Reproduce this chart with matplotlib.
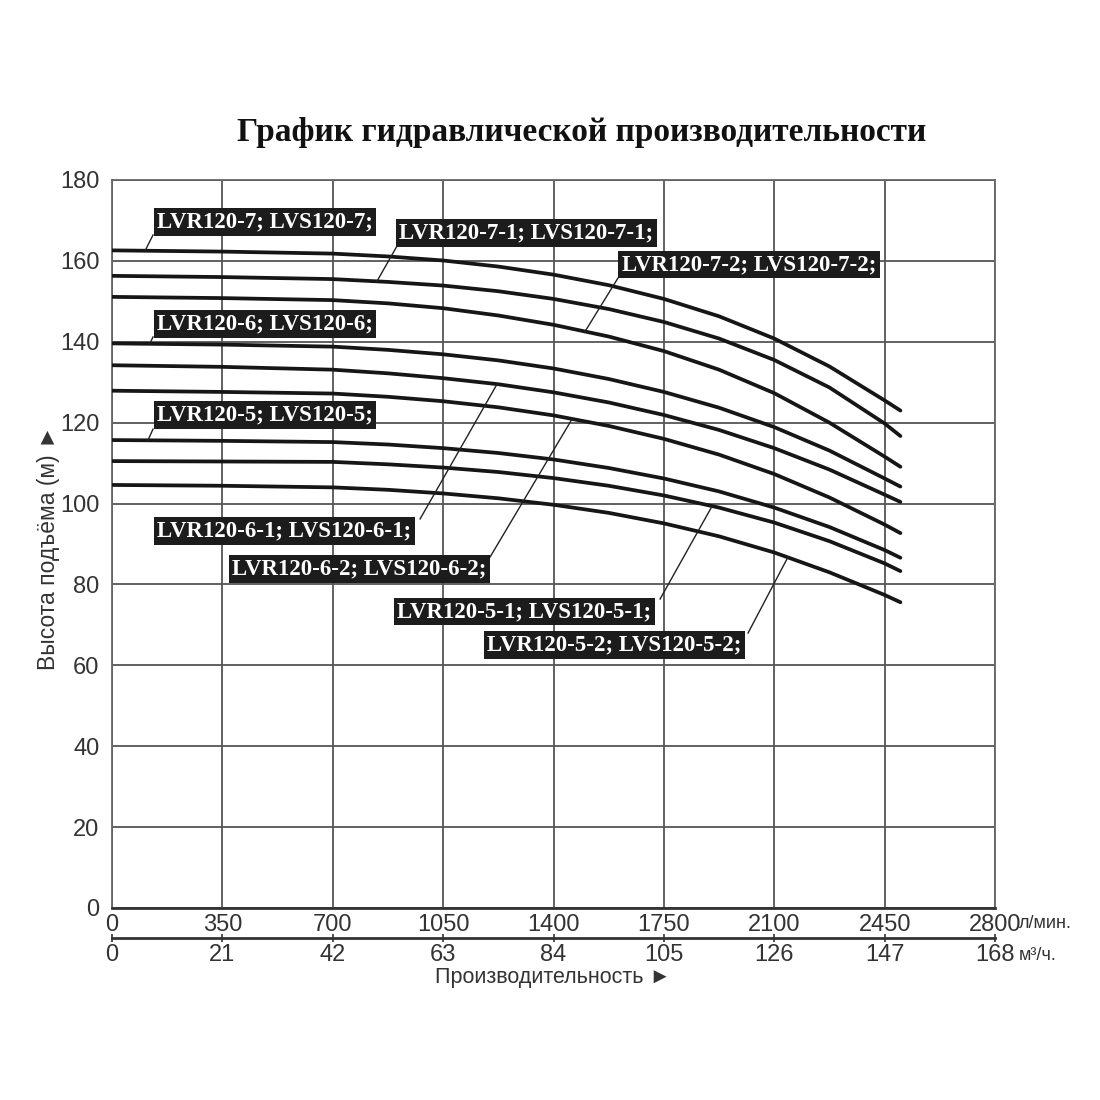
import matplotlib
matplotlib.use('Agg')
import matplotlib.pyplot as plt
import numpy as np

# ---------------- data ----------------
flow_lpm = [0, 350, 700, 875, 1050, 1225, 1400, 1575, 1750, 1925, 2100, 2275, 2450, 2500]

model_names = [
    'LVR120-7; LVS120-7;',
    'LVR120-7-1; LVS120-7-1;',
    'LVR120-7-2; LVS120-7-2;',
    'LVR120-6; LVS120-6;',
    'LVR120-6-1; LVS120-6-1;',
    'LVR120-6-2; LVS120-6-2;',
    'LVR120-5; LVS120-5;',
    'LVR120-5-1; LVS120-5-1;',
    'LVR120-5-2; LVS120-5-2;',
]

head_7   = [162.6, 162.3, 161.8, 161.1, 160.1, 158.6, 156.6, 154.0, 150.6, 146.3, 140.8, 133.9, 125.5, 123.0]
head_7_1 = [156.3, 156.0, 155.5, 154.8, 153.9, 152.5, 150.6, 148.1, 144.9, 140.8, 135.5, 128.7, 119.8, 116.7]
head_7_2 = [151.1, 150.8, 150.3, 149.5, 148.3, 146.5, 144.2, 141.3, 137.7, 133.1, 127.3, 120.0, 111.6, 109.1]
head_6   = [139.6, 139.3, 138.8, 138.0, 136.9, 135.4, 133.4, 130.8, 127.6, 123.7, 118.9, 113.1, 106.2, 104.2]
head_6_1 = [134.2, 133.8, 133.1, 132.2, 131.0, 129.5, 127.5, 125.0, 121.9, 118.2, 113.7, 108.4, 102.2, 100.4]
head_6_2 = [127.9, 127.6, 127.2, 126.4, 125.3, 123.8, 121.8, 119.2, 116.0, 112.1, 107.3, 101.5, 94.8, 92.7]
head_5   = [115.7, 115.5, 115.2, 114.6, 113.7, 112.5, 110.9, 108.8, 106.2, 103.0, 99.0, 94.2, 88.5, 86.6]
head_5_1 = [110.5, 110.4, 110.3, 109.7, 108.9, 107.8, 106.3, 104.4, 102.0, 99.0, 95.3, 90.7, 85.2, 83.3]
head_5_2 = [104.6, 104.4, 104.0, 103.4, 102.5, 101.3, 99.7, 97.7, 95.1, 91.9, 87.9, 83.0, 77.4, 75.6]

heads = [head_7, head_7_1, head_7_2, head_6, head_6_1, head_6_2, head_5, head_5_1, head_5_2]

x_ticks_lpm = [0, 350, 700, 1050, 1400, 1750, 2100, 2450, 2800]
x_ticks_m3h = [0, 21, 42, 63, 84, 105, 126, 147, 168]
y_ticks = [0, 20, 40, 60, 80, 100, 120, 140, 160, 180]

title = 'График гидравлической производительности'
y_label = 'Высота подъёма (м) ►'
x_label = 'Производительность ►'
unit_lpm = 'л/мин.'
unit_m3h = 'м³/ч.'

# label layout: (text x, text y, leader start x, leader start y, leader end x)
label_layout = [
    (143, 169.7, 130, 166.4, 105),
    (910, 167.0, 904, 163.7, 840),
    (1617, 159.1, 1604, 155.7, 1500),
    (143, 144.5, 130, 141.2, 120),
    (143, 93.3, 977, 96.2, 1221),
    (381, 83.8, 1199, 86.8, 1459),
    (143, 121.8, 130, 118.4, 114),
    (904, 73.3, 1738, 76.4, 1903),
    (1189, 65.0, 2017, 68.0, 2143),
]

# ---------------- figure ----------------
fig = plt.figure(figsize=(11, 11), dpi=100)
fig.patch.set_facecolor('white')
ax = fig.add_axes([112 / 1100, 192 / 1100, 883 / 1100, 728 / 1100])

sans = ['Liberation Sans', 'DejaVu Sans']
narrow = ['Liberation Sans Narrow', 'Liberation Sans', 'DejaVu Sans']
serif = ['Liberation Serif', 'DejaVu Serif']

ax.set_xlim(0, 2800)
ax.set_ylim(0, 180)
ax.set_xticks(x_ticks_lpm)
ax.set_yticks(y_ticks)
ax.set_xticklabels([str(v) for v in x_ticks_lpm], fontfamily=narrow, fontsize=17, color='#333333')
ax.set_yticklabels([str(v) for v in y_ticks], fontfamily=narrow, fontsize=17, color='#333333')
ax.tick_params(axis='both', length=0)
ax.tick_params(axis='x', pad=4)
ax.tick_params(axis='y', pad=9)
ax.grid(True, color='#555555', linewidth=1.3)
ax.set_axisbelow(True)
for s in ['top', 'right', 'left']:
    ax.spines[s].set_color('#666666')
    ax.spines[s].set_linewidth(1.3)
ax.spines['bottom'].set_color('#333333')
ax.spines['bottom'].set_linewidth(2.0)

# curves
for h in heads:
    ax.plot(flow_lpm, h, color='#161616', linewidth=2.7, solid_capstyle='round',
            solid_joinstyle='round', zorder=3)

# labels with leaders
for name, h, (tx, ty, sx, sy, ex) in zip(model_names, heads, label_layout):
    ey = np.interp(ex, flow_lpm, h)
    ax.plot([sx, ex], [sy, ey], color='#222222', linewidth=1.0, zorder=4)
    ax.text(tx, ty, name, fontfamily=serif, fontweight='bold', fontsize=16.5,
            color='white', ha='left', va='center', zorder=5,
            bbox=dict(boxstyle='square,pad=0.15', facecolor='#1c1c1c', edgecolor='none'))

# secondary x axis (m3/h)
sec = ax.secondary_xaxis(-30 / 728, functions=(lambda x: x * 0.06, lambda x: x / 0.06))
sec.set_xticks(x_ticks_m3h)
sec.set_xticklabels([str(v) for v in x_ticks_m3h], fontfamily=narrow, fontsize=17, color='#333333')
sec.tick_params(axis='x', direction='inout', length=6, width=1.2, pad=1, color='#333333')
sec.spines['bottom'].set_color('#333333')
sec.spines['bottom'].set_linewidth(2.0)

# unit labels
fig.text(1019 / 1100, 1 - 924 / 1100, unit_lpm, fontfamily=narrow, fontsize=13,
         color='#333333', ha='left', va='center')
fig.text(1019 / 1100, 1 - 955 / 1100, unit_m3h, fontfamily=narrow, fontsize=13,
         color='#333333', ha='left', va='center')

# axis titles
fig.text(553 / 1100, 1 - 978 / 1100, x_label, fontfamily=sans, fontsize=15.5,
         color='#333333', ha='center', va='center')
fig.text(48 / 1100, 1 - 548 / 1100, y_label, fontfamily=sans, fontsize=16.5,
         color='#333333', ha='center', va='center', rotation=90)

# title
fig.text(582 / 1100, 1 - 133 / 1100, title, fontfamily=serif, fontweight='bold',
         fontsize=24, color='#111111', ha='center', va='center')

fig.savefig('out.png', dpi=100, facecolor='white')
